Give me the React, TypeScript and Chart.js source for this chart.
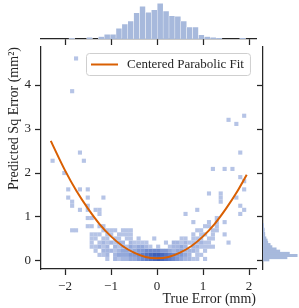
import React, { useEffect, useRef } from 'react';
import { Chart, registerables } from 'chart.js';

Chart.register(...registerables);

// ---------------- data ----------------
const xTickValues = [-2, -1, 0, 1, 2];
const yTickValues = [0, 1, 2, 3, 4];
const xLimits = [-2.522, 2.152];
const yLimits = [-0.182, 4.864];

const xTitle = 'True Error (mm)';
const yTitle = 'Predicted Sq Error (mm²)';
const fitLabel = 'Centered Parabolic Fit';

// 2-D histogram: 50 x 50 bins
const cellXStart = -2.3125;
const cellXWidth = 0.085;
const cellYStart = 0;
const cellYWidth = 0.093;
// row 0 = lowest y bin; '.' = empty, '1'..'9' = count level
const cellRows = [
  '..............1.2122334567898765432211.1..........',
  '............112.23334456789987654432.11...........',
  '...........1.2221233234455554432332221.1..........',
  '..........11212.2121323321.1..12232.221111........',
  '..........1.1212122.21111....1.2212111211....1....',
  '..........11.11.11.11.1...1......11.111.11........',
  '..........111.11.1111...............1.11.1..1.....',
  '.....11......1111.111................11..11.......',
  '.........11.11.........................11.1.......',
];
// isolated single-count cells [xBin, yBin]
const sparseCells = [
  [36, 9], [40, 9], [42, 9], [44, 9],
  [9, 10], [10, 10], [42, 10],
  [12, 11], [34, 11], [48, 11],
  [7, 12], [9, 12], [11, 12], [12, 12], [37, 12], [49, 12],
  [5, 13], [9, 13], [48, 13],
  [5, 14], [43, 14],
  [4, 15], [9, 15], [13, 15], [43, 15], [47, 15],
  [40, 16], [43, 16],
  [4, 17], [7, 17], [9, 17], [49, 17],
  [49, 19], [48, 20], [3, 21], [41, 22], [44, 22], [46, 22],
  [0, 24], [8, 24], [7, 26], [48, 26], [47, 33], [45, 34], [49, 35],
  [5, 41], [6, 49],
];

// top marginal histogram (x)
const topBinStart = -1.915;
const topBinWidth = 0.128;
const topCounts = [1, 0, 0, 3, 0, 4, 8, 8, 18, 25, 30, 44, 55, 45, 49, 60, 47, 39, 38, 30, 20, 20, 7, 4, 3, 2, 0, 0, 0, 2];

// right marginal histogram (y)
const rightBinStart = 0;
const rightBinWidth = 0.05;
const rightCounts = [10, 40, 57, 44, 28, 22, 15, 12, 8, 7, 5, 3, 3, 2, 2, 1, 1];

// centered parabolic fit
const fitX = [-2.31, -2.0, -1.75, -1.5, -1.25, -1.0, -0.75, -0.5, -0.25, 0.0, 0.25, 0.5, 0.75, 1.0, 1.25, 1.5, 1.75, 1.95];
const fitY = [2.73, 2.06, 1.59, 1.19, 0.84, 0.56, 0.34, 0.19, 0.09, 0.06, 0.09, 0.19, 0.34, 0.56, 0.84, 1.19, 1.59, 1.96];

// ---------------- styles ----------------
const SERIF = "'Liberation Serif', 'Times New Roman', serif";
const INK = '#262626';
const ORANGE = '#d95f02';
const HIST = '#a7b9dc';
const levelColors = ['#b6c4e6', '#a5b6e0', '#93a8da', '#8199d4', '#708bce', '#627fc9', '#5574c3', '#4a69bd', '#3f5fb7'];
const W = 299;
const H = 308;

const fmt = (v: number) => (v < 0 ? '\u2212' + Math.abs(v) : String(v));

const axisGrid = {
  display: true,
  drawOnChartArea: false,
  drawTicks: true,
  tickLength: 6,
  tickWidth: 1.25,
  tickColor: INK,
  offset: false,
};
const axisBorder = { display: true, color: INK, width: 1.25 };

const boxLegend = {
  id: 'boxLegend',
  afterDraw(chart: any) {
    const ds = chart.data.datasets[0];
    const { ctx, chartArea } = chart;
    ctx.save();
    ctx.font = `13px ${SERIF}`;
    const tw = ctx.measureText(ds.label).width;
    const h = 22;
    const w = 47 + tw;
    const x0 = Math.round(chartArea.right - 6 - w);
    const y0 = Math.round(chartArea.top + 6);
    ctx.beginPath();
    ctx.roundRect(x0 + 0.5, y0 + 0.5, w, h, 3);
    ctx.fillStyle = 'rgba(255,255,255,0.85)';
    ctx.fill();
    ctx.strokeStyle = '#cfcfcf';
    ctx.lineWidth = 1;
    ctx.stroke();
    ctx.beginPath();
    ctx.moveTo(x0 + 5, y0 + h / 2 + 0.5);
    ctx.lineTo(x0 + 32, y0 + h / 2 + 0.5);
    ctx.strokeStyle = ds.borderColor;
    ctx.lineWidth = 2;
    ctx.stroke();
    ctx.fillStyle = INK;
    ctx.textBaseline = 'middle';
    ctx.fillText(ds.label, x0 + 41, y0 + h / 2 + 1);
    ctx.restore();
  },
};

export default function App() {
  const mainRef = useRef<HTMLCanvasElement>(null);
  const topRef = useRef<HTMLCanvasElement>(null);
  const rightRef = useRef<HTMLCanvasElement>(null);

  useEffect(() => {
    Chart.defaults.font.family = SERIF;
    Chart.defaults.color = INK;

    const cellPoints: { x: number; y: number }[] = [];
    const cellColors: string[] = [];
    cellRows.forEach((row, j) => {
      for (let i = 0; i < row.length; i++) {
        const c = row[i];
        if (c === '.') continue;
        cellPoints.push({ x: cellXStart + cellXWidth * (i + 0.5), y: cellYStart + cellYWidth * (j + 0.5) });
        cellColors.push(levelColors[Number(c) - 1]);
      }
    });
    sparseCells.forEach(([i, j]) => {
      cellPoints.push({ x: cellXStart + cellXWidth * (i + 0.5), y: cellYStart + cellYWidth * (j + 0.5) });
      cellColors.push(levelColors[0]);
    });

    const main = new Chart(mainRef.current!, {
      type: 'scatter',
      data: {
        datasets: [
          {
            type: 'line',
            label: fitLabel,
            data: fitX.map((x, k) => ({ x, y: fitY[k] })),
            borderColor: ORANGE,
            borderWidth: 2,
            pointRadius: 0,
            cubicInterpolationMode: 'monotone',
            fill: false,
          } as any,
          {
            label: 'cells',
            data: cellPoints,
            pointStyle: 'rect',
            pointRadius: 2.92,
            pointHoverRadius: 2.92,
            backgroundColor: cellColors,
            borderWidth: 0,
          },
        ],
      },
      options: {
        responsive: false,
        maintainAspectRatio: false,
        animation: false,
        devicePixelRatio: 1,
        events: [],
        layout: { padding: { left: 0, top: 47, right: 43, bottom: 0 } },
        plugins: { legend: { display: false }, tooltip: { enabled: false } },
        scales: {
          x: {
            type: 'linear',
            min: xLimits[0],
            max: xLimits[1],
            afterBuildTicks: (s: any) => {
              s.ticks = xTickValues.map((v) => ({ value: v }));
            },
            afterFit: (s: any) => {
              s.height = 39;
            },
            grid: axisGrid,
            border: axisBorder,
            ticks: { font: { size: 13, family: SERIF }, color: INK, padding: 4, maxRotation: 0, callback: (v: any) => fmt(v) },
            title: { display: true, text: xTitle, align: 'end', font: { size: 14, family: SERIF }, color: INK, padding: { top: 0, bottom: 0 } },
          },
          y: {
            type: 'linear',
            min: yLimits[0],
            max: yLimits[1],
            afterBuildTicks: (s: any) => {
              s.ticks = yTickValues.map((v) => ({ value: v }));
            },
            afterFit: (s: any) => {
              s.width = 41;
            },
            grid: axisGrid,
            border: axisBorder,
            ticks: { font: { size: 13, family: SERIF }, color: INK, padding: 4, callback: (v: any) => fmt(v) },
            title: { display: true, text: yTitle, align: 'end', font: { size: 14, family: SERIF }, color: INK, padding: { top: 6, bottom: 0 } },
          },
        },
      } as any,
      plugins: [boxLegend],
    });

    const top = new Chart(topRef.current!, {
      type: 'bar',
      data: {
        datasets: [
          {
            data: topCounts.map((c, k) => ({ x: topBinStart + topBinWidth * (k + 0.5), y: c })),
            backgroundColor: HIST,
            borderColor: 'rgba(255,255,255,0.8)',
            borderWidth: 0.5,
            barPercentage: 1,
            categoryPercentage: 1,
          } as any,
        ],
      },
      options: {
        responsive: false,
        maintainAspectRatio: false,
        animation: false,
        devicePixelRatio: 1,
        events: [],
        layout: { padding: { left: 41, right: 43, top: 0, bottom: 261 } },
        plugins: { legend: { display: false }, tooltip: { enabled: false } },
        scales: {
          x: {
            type: 'linear',
            min: xLimits[0],
            max: xLimits[1],
            offset: false,
            afterBuildTicks: (s: any) => {
              s.ticks = xTickValues.map((v) => ({ value: v }));
            },
            afterFit: (s: any) => {
              s.height = 8;
            },
            grid: axisGrid,
            border: axisBorder,
            ticks: { display: false },
          },
          y: { display: false, min: 0, max: 65.5 },
        },
      } as any,
    });

    const right = new Chart(rightRef.current!, {
      type: 'bar',
      data: {
        datasets: [
          {
            data: rightCounts.map((c, m) => ({ x: c, y: rightBinStart + rightBinWidth * (m + 0.5) })),
            backgroundColor: HIST,
            borderWidth: 0,
            barPercentage: 1,
            categoryPercentage: 1,
          } as any,
        ],
      },
      options: {
        indexAxis: 'y',
        responsive: false,
        maintainAspectRatio: false,
        animation: false,
        devicePixelRatio: 1,
        events: [],
        layout: { padding: { left: 257, right: 0, top: 47, bottom: 39 } },
        plugins: { legend: { display: false }, tooltip: { enabled: false } },
        scales: {
          y: {
            type: 'linear',
            position: 'left',
            min: yLimits[0],
            max: yLimits[1],
            offset: false,
            afterBuildTicks: (s: any) => {
              s.ticks = yTickValues.map((v) => ({ value: v }));
            },
            afterFit: (s: any) => {
              s.width = 6;
            },
            grid: axisGrid,
            border: axisBorder,
            ticks: { display: false },
          },
          x: { display: false, min: 0, max: 60 },
        },
      } as any,
    });

    return () => {
      main.destroy();
      top.destroy();
      right.destroy();
    };
  }, []);

  const cstyle: React.CSSProperties = { position: 'absolute', left: 0, top: 0 };
  return (
    <div style={{ position: 'absolute', left: 0, top: 0, width: W, height: H, background: '#ffffff' }}>
      <canvas ref={topRef} width={W} height={H} style={cstyle} />
      <canvas ref={rightRef} width={W} height={H} style={cstyle} />
      <canvas ref={mainRef} width={W} height={H} style={cstyle} />
    </div>
  );
}
